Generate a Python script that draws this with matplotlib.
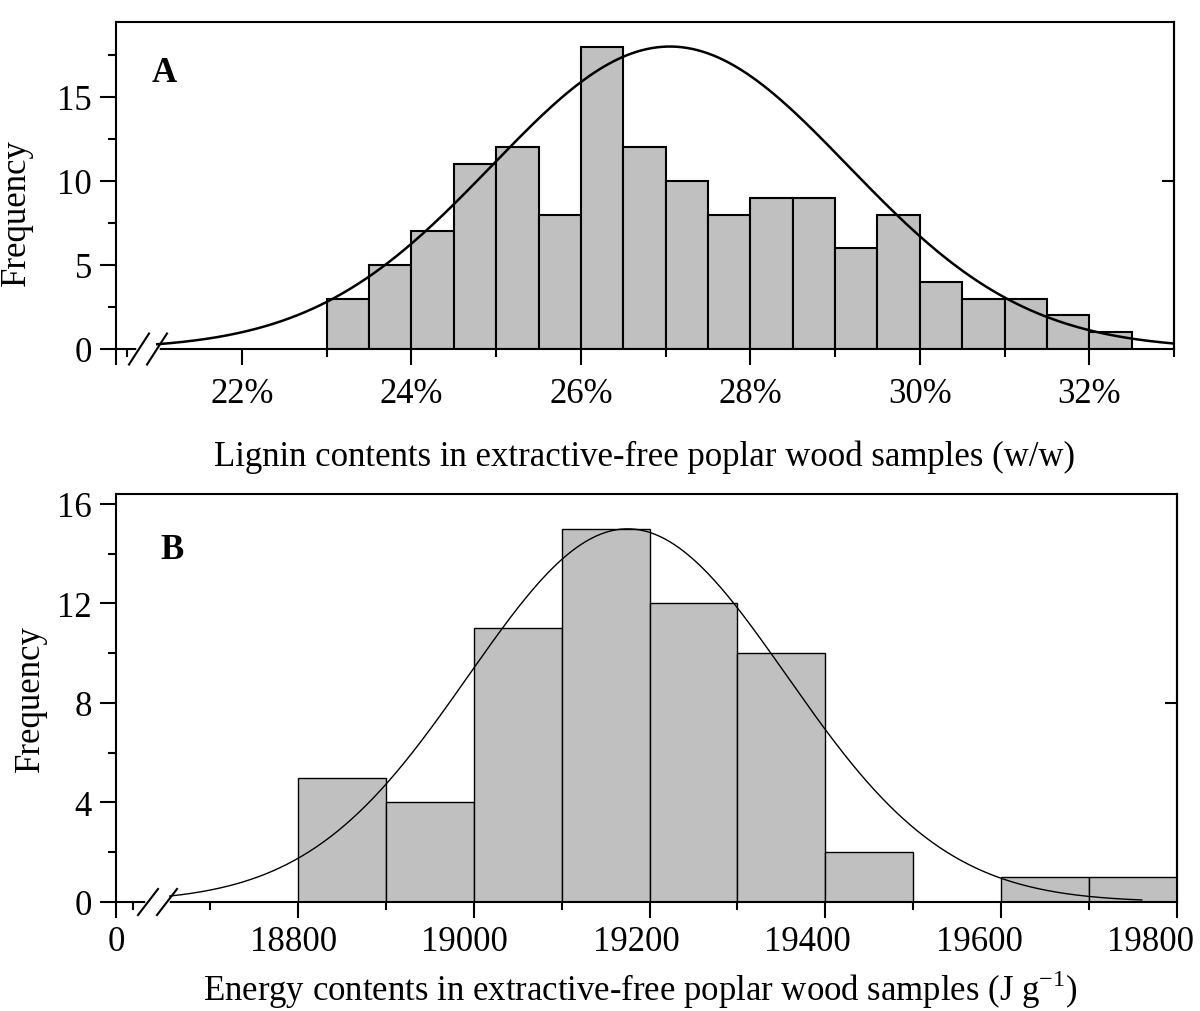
import numpy as np
import matplotlib

matplotlib.use("Agg")
import matplotlib.pyplot as plt
from matplotlib.ticker import MultipleLocator, FixedLocator, FuncFormatter
from matplotlib.transforms import ScaledTranslation

plt.rcParams["font.family"] = ["Liberation Serif", "DejaVu Serif"]
plt.rcParams["mathtext.fontset"] = "custom"
plt.rcParams["mathtext.rm"] = "Liberation Serif"

# ---- panel A: lignin content (%), bins of 0.5 %
lignin_edges = [23.0, 23.5, 24.0, 24.5, 25.0, 25.5, 26.0, 26.5, 27.0, 27.5,
                28.0, 28.5, 29.0, 29.5, 30.0, 30.5, 31.0, 31.5, 32.0, 32.5]
lignin_counts = [3, 5, 7, 11, 12, 8, 18, 12, 10, 8, 9, 9, 6, 8, 4, 3, 3, 2, 1]
lignin_fit = {"mean": 27.05, "sd": 2.1, "peak": 18.0, "start": 21.0, "stop": 33.0}
lignin_ticks = [22, 24, 26, 28, 30, 32]

# ---- panel B: energy content (J/g), bins of 100
energy_edges = [18800, 18900, 19000, 19100, 19200, 19300, 19400, 19500,
                19600, 19700, 19800]
energy_counts = [5, 4, 11, 15, 12, 10, 2, 0, 1, 1]
energy_fit = {"mean": 19175, "sd": 181, "peak": 15.0, "start": 18654, "stop": 19760}
energy_ticks = [18800, 19000, 19200, 19400, 19600, 19800]

FS = 25
W, H = 1200, 1012
fig = plt.figure(figsize=(W / 100, H / 100), dpi=100)


def px_axes(left, right, top, bottom):
    return fig.add_axes([left / W, 1 - bottom / H, (right - left) / W, (bottom - top) / H])


def style(ax):
    for s in ax.spines.values():
        s.set_linewidth(1.5)
    ax.tick_params(which="major", direction="out", length=11.5, width=1.5,
                   labelsize=FS, pad=6)
    ax.tick_params(which="minor", direction="out", length=5.8, width=1.5)
    ax.tick_params(axis="x", top=False, which="both")
    ax.tick_params(axis="y", right=False, which="both")


def right_tick(ax, y):
    sec = ax.secondary_yaxis("right")
    sec.set_yticks([y])
    sec.tick_params(direction="in", length=8.5, width=1.5, labelright=False)
    sec.spines["right"].set_linewidth(1.5)


def axis_break(ax, c1, c2, half_w, half_h):
    # centres / half sizes in pixels relative to axes lower-left corner
    bb = ax.get_position()
    aw, ah = bb.width * W, bb.height * H
    ax.plot([c1 / aw, c2 / aw], [0, 0], color="white", lw=4,
            transform=ax.transAxes, clip_on=False, zorder=5)
    for c in (c1, c2):
        ax.plot([(c - half_w) / aw, (c + half_w) / aw], [-half_h / ah, half_h / ah],
                color="black", lw=1.5, transform=ax.transAxes, clip_on=False, zorder=6)


def fit_curve(p):
    x = np.linspace(p["start"], p["stop"], 400)
    return x, p["peak"] * np.exp(-0.5 * ((x - p["mean"]) / p["sd"]) ** 2)


# ================= A
axA = px_axes(116, 1174, 23, 350)
widthsA = np.diff(lignin_edges)
axA.bar(lignin_edges[:-1], lignin_counts, width=widthsA, align="edge",
        color="#c0c0c0", edgecolor="black", linewidth=1.5, zorder=2)
xc, yc = fit_curve(lignin_fit)
axA.plot(xc, yc, color="black", lw=1.8, zorder=3)
axA.set_xlim(20.513, 33.0)
axA.set_ylim(0, 19.46)
axA.xaxis.set_major_locator(FixedLocator([20.513] + lignin_ticks))
axA.xaxis.set_minor_locator(FixedLocator([20.64, 23, 25, 27, 29, 31, 33]))
axA.xaxis.set_major_formatter(FuncFormatter(lambda v, p: "" if v < 21 else f"{v:.0f}%"))
axA.yaxis.set_major_locator(MultipleLocator(5))
axA.yaxis.set_minor_locator(MultipleLocator(2.5))
style(axA)
axA.tick_params(axis="x", which="major", pad=9)
right_tick(axA, 10)
axA.set_xlabel("Lignin contents in extractive-free poplar wood samples (w/w)", fontsize=FS)
axA.set_ylabel("Frequency", fontsize=FS)
axA.xaxis.set_label_coords(0.5, -0.278)
axA.yaxis.set_label_coords(-0.0785, 0.42)
axA.text(0.046, 0.845, "A", transform=axA.transAxes, fontsize=FS,
         fontweight="bold", ha="center", va="center")
axis_break(axA, 23, 41, 10, 15.5)

# ================= B
axB = px_axes(116, 1177, 495, 903)
widthsB = np.diff(energy_edges)
axB.bar(energy_edges[:-1], energy_counts, width=widthsB, align="edge",
        color="#c0c0c0", edgecolor="black", linewidth=1.0, zorder=2)
xc, yc = fit_curve(energy_fit)
axB.plot(xc, yc, color="black", lw=1.0, zorder=3)
axB.set_xlim(18593, 19800)
axB.set_ylim(0, 16.4)
axB.xaxis.set_major_locator(FixedLocator([18593] + energy_ticks))
axB.xaxis.set_minor_locator(FixedLocator([18612, 18700, 18900, 19100, 19300, 19500, 19700]))
axB.xaxis.set_major_formatter(FuncFormatter(lambda v, p: "0" if v < 18700 else f"{v:.0f}"))
axB.yaxis.set_major_locator(MultipleLocator(4))
axB.yaxis.set_minor_locator(MultipleLocator(2))
style(axB)
axB.tick_params(axis="x", which="major", pad=5)
right_tick(axB, 8)
axB.set_xlabel("Energy contents in extractive-free poplar wood samples (J g$^{\\mathregular{-1}}$)",
               fontsize=FS)
axB.set_ylabel("Frequency", fontsize=FS)
axB.xaxis.set_label_coords(0.494, -0.159)
axB.yaxis.set_label_coords(-0.065, 0.5)
axB.text(0.053, 0.865, "B", transform=axB.transAxes, fontsize=FS,
         fontweight="bold", ha="center", va="center")
axis_break(axB, 32, 51, 10, 13)

# the original's x labels in B drift slightly left of their ticks
fig.canvas.draw()
for tick in axB.xaxis.get_major_ticks():
    tpx = axB.transData.transform((tick.get_loc(), 0))[0]
    dx = -0.025 * (tpx - 116)
    lab = tick.label1
    lab.set_transform(lab.get_transform() + ScaledTranslation(dx / 100, 0, fig.dpi_scale_trans))

fig.savefig("out.png", dpi=100)
